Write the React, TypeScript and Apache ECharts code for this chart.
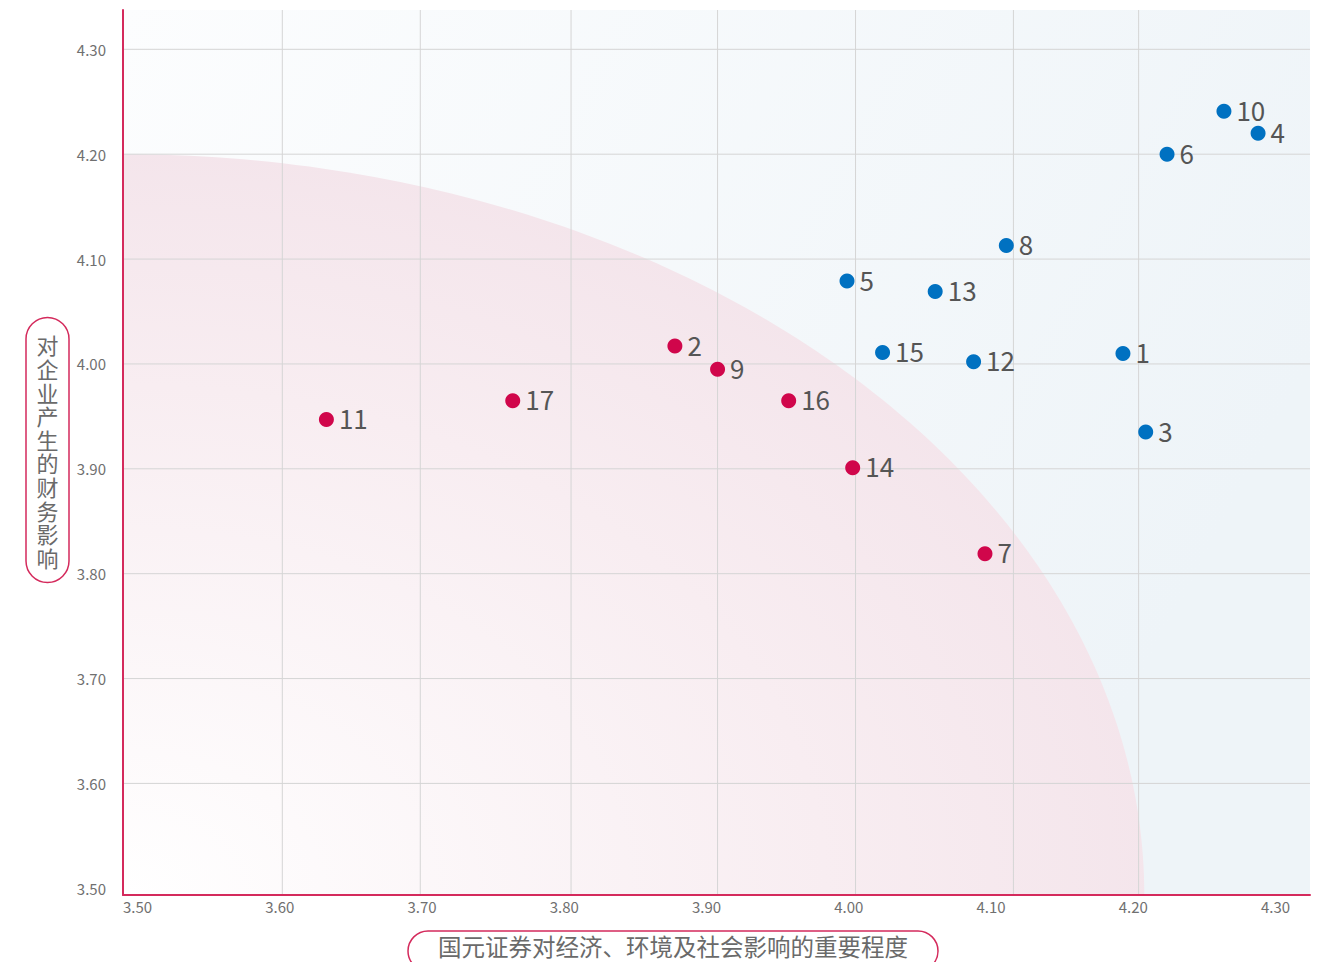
import React, { useEffect, useRef } from "react";
import * as echarts from "echarts";

// ---- data ----
const highIds = ["1", "3", "4", "5", "6", "8", "10", "12", "13", "15"];
const highX = [4.203, 4.219, 4.298, 4.009, 4.234, 4.121, 4.274, 4.098, 4.071, 4.034];
const highY = [4.01, 3.935, 4.22, 4.079, 4.2, 4.113, 4.241, 4.002, 4.069, 4.011];

const lowIds = ["2", "7", "9", "11", "14", "16", "17"];
const lowX = [3.888, 4.106, 3.918, 3.643, 4.013, 3.968, 3.774];
const lowY = [4.017, 3.819, 3.995, 3.947, 3.901, 3.965, 3.965];

const xTickValues = [3.5, 3.6, 3.7, 3.8, 3.9, 4.0, 4.1, 4.2, 4.3];
const yTickValues = [3.5, 3.6, 3.7, 3.8, 3.9, 4.0, 4.1, 4.2, 4.3];
const xGridValues = [3.612, 3.709, 3.815, 3.918, 4.015, 4.126, 4.214];
const yGridValues = [3.6, 3.7, 3.8, 3.9, 4.0, 4.1, 4.2, 4.3];

const xRange = [3.5, 4.3345];
const yRange = [3.4936, 4.3375];
const zoneEdge = [4.218, 4.2]; // x reach, y reach of the pink quarter-ellipse

const xName = "国元证券对经济、环境及社会影响的重要程度";
const yName = "对企业产生的财务影响";

const FONT = '"Noto Sans CJK SC", "Noto Sans", sans-serif';
const ACCENT = "#d42a5c";
const GRID_COLOR = "#d5d5d5";

export default function App() {
  const ref = useRef<HTMLDivElement>(null);

  useEffect(() => {
    if (!ref.current) return;
    const chart = echarts.init(ref.current, undefined, { renderer: "svg" });

    const pointLabel = {
      show: true,
      position: "right",
      distance: 5,
      offset: [0, -2],
      formatter: (p: any) => p.data[2],
      fontSize: 26,
      color: "#555555",
      fontFamily: FONT,
    };

    const gridLineSeries = (dim: "x" | "y", values: number[]) => ({
      type: "custom",
      z: 2,
      silent: true,
      clip: false,
      data: values.map((v) => (dim === "x" ? [v, yRange[0]] : [xRange[0], v])),
      renderItem: (params: any, api: any) => {
        const v = api.value(dim === "x" ? 0 : 1);
        const a = dim === "x" ? api.coord([v, yRange[0]]) : api.coord([xRange[0], v]);
        const b = dim === "x" ? api.coord([v, yRange[1]]) : api.coord([xRange[1], v]);
        return {
          type: "line",
          shape: { x1: a[0], y1: a[1], x2: b[0], y2: b[1] },
          style: { stroke: GRID_COLOR, lineWidth: 1 },
        };
      },
    });

    const option: any = {
      animation: false,
      backgroundColor: "#ffffff",
      grid: {
        left: 123,
        right: 15,
        top: 10,
        bottom: 67,
        containLabel: false,
        show: true,
        borderWidth: 0,
        backgroundColor: new echarts.graphic.LinearGradient(0, 0, 1, 0.4, [
          { offset: 0, color: "#fcfdfe" },
          { offset: 1, color: "#eef4f8" },
        ]),
      },
      xAxis: {
        type: "value",
        min: xRange[0],
        max: xRange[1],
        z: 5,
        axisLine: { show: true, onZero: false, lineStyle: { color: ACCENT, width: 2 } },
        axisTick: { show: false },
        splitLine: { show: false },
        axisLabel: {
          customValues: xTickValues,
          formatter: (v: number) => v.toFixed(2),
          align: "left",
          margin: 4,
          fontSize: 15,
          color: "#707070",
          fontFamily: FONT,
        },
      },
      yAxis: {
        type: "value",
        min: yRange[0],
        max: yRange[1],
        z: 5,
        axisLine: { show: true, onZero: false, lineStyle: { color: ACCENT, width: 2 } },
        axisTick: { show: false },
        splitLine: { show: false },
        axisLabel: {
          customValues: yTickValues,
          formatter: (v: number) => v.toFixed(2),
          margin: 17,
          fontSize: 15,
          color: "#707070",
          fontFamily: FONT,
        },
      },
      series: [
        {
          type: "custom",
          z: 1,
          silent: true,
          data: [[xRange[0], yRange[0]]],
          renderItem: (_params: any, api: any) => {
            const c = api.coord([xRange[0], yRange[0]]);
            const r = api.coord([zoneEdge[0], yRange[0]]);
            const t = api.coord([xRange[0], zoneEdge[1]]);
            const rx = r[0] - c[0];
            const ry = c[1] - t[1];
            const pts: number[][] = [[c[0], c[1]]];
            for (let i = 0; i <= 120; i++) {
              const a = (i / 120) * (Math.PI / 2);
              pts.push([c[0] + rx * Math.cos(a), c[1] - ry * Math.sin(a)]);
            }
            return {
              type: "polygon",
              shape: { points: pts },
              style: {
                fill: new echarts.graphic.RadialGradient(0, 1, 1.25, [
                  { offset: 0, color: "#ffffff" },
                  { offset: 0.55, color: "#f8edf1" },
                  { offset: 1, color: "#f1dfe7" },
                ]),
              },
            };
          },
        },
        gridLineSeries("x", xGridValues),
        gridLineSeries("y", yGridValues),
        {
          type: "scatter",
          z: 3,
          symbolSize: 15,
          itemStyle: { color: "#0071c1", opacity: 1 },
          label: pointLabel,
          data: highIds.map((id, i) => [highX[i], highY[i], id]),
        },
        {
          type: "scatter",
          z: 3,
          symbolSize: 15,
          itemStyle: { color: "#d0064b", opacity: 1 },
          label: pointLabel,
          data: lowIds.map((id, i) => [lowX[i], lowY[i], id]),
        },
      ],
      graphic: [
        {
          type: "rect",
          z: 10,
          shape: { x: 26, y: 317.5, width: 43, height: 265, r: 21.5 },
          style: { fill: "none", stroke: ACCENT, lineWidth: 1.5 },
        },
        {
          type: "text",
          z: 10,
          x: 47.5,
          y: 450.5,
          style: {
            text: yName.split("").join("\n"),
            fontSize: 22,
            lineHeight: 23.6,
            fontFamily: FONT,
            fill: "#6a6a6a",
            textAlign: "center",
            textVerticalAlign: "middle",
            align: "center",
            verticalAlign: "middle",
          },
        },
        {
          type: "rect",
          z: 10,
          shape: { x: 408, y: 931, width: 530, height: 40, r: 20 },
          style: { fill: "none", stroke: ACCENT, lineWidth: 1.5 },
        },
        {
          type: "text",
          z: 10,
          x: 673,
          y: 946,
          style: {
            text: xName,
            fontSize: 23.5,
            fontFamily: FONT,
            fill: "#6a6a6a",
            textAlign: "center",
            textVerticalAlign: "middle",
            align: "center",
            verticalAlign: "middle",
          },
        },
      ],
    };

    chart.setOption(option);
    return () => chart.dispose();
  }, []);

  return (
    <div
      ref={ref}
      style={{ position: "fixed", left: 0, top: 0, width: 1325, height: 962 }}
    />
  );
}
